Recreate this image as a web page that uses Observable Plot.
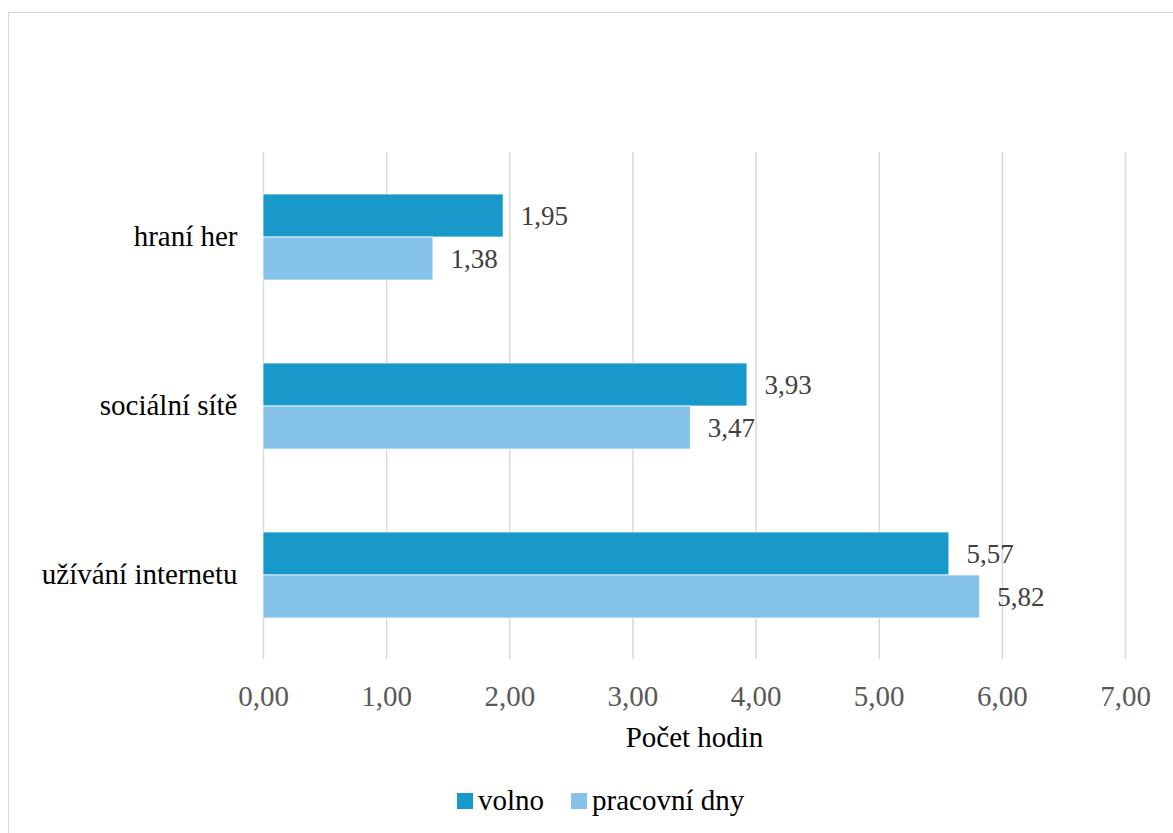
<!DOCTYPE html>
<html><head><meta charset="utf-8">
<script src="https://cdn.jsdelivr.net/npm/d3@7"></script>
<script src="https://cdn.jsdelivr.net/npm/@observablehq/plot@0.6"></script>
<style>
html,body{margin:0;padding:0;background:#fff;overflow:hidden;}
#wrap{position:relative;width:1173px;height:833px;overflow:hidden;background:#fff;}
#frame{position:absolute;left:8px;top:12px;width:1200px;height:900px;border:1.5px solid #d9d9d9;box-sizing:border-box;}
#chart{position:absolute;left:0;top:0;}
#legend{position:absolute;left:457px;top:786px;display:flex;align-items:center;font-family:"Liberation Serif","Times New Roman",serif;font-size:29px;line-height:1;color:#000;white-space:nowrap;}
#legend .sw{display:inline-block;width:16px;height:16px;margin-right:5px;}
#legend .item{display:flex;align-items:center;margin-right:27px;}
svg text{font-family:"Liberation Serif","Times New Roman",serif !important;}
g[aria-label="x-axis tick label"]{fill:#595959;}
</style>
</head><body>
<div id="wrap"><div id="frame"></div><div id="chart"></div><div id="legend"></div></div>
<script>
const categories = ["hraní her", "sociální sítě", "užívání internetu"];
const series = ["volno", "pracovní dny"];
const volno = [1.95, 3.93, 5.57];
const pracovniDny = [1.38, 3.47, 5.82];
const xTicks = [0, 1, 2, 3, 4, 5, 6, 7];
const colors = ["#1999ca", "#86c3ea"];
const axisTitle = "Počet hodin";

const fmt = d => d.toFixed(2).replace(".", ",");
const rows = [];
categories.forEach((c, i) => {
  rows.push({category: c, series: series[0], value: volno[i]});
  rows.push({category: c, series: series[1], value: pracovniDny[i]});
});

const chart = Plot.plot({
  width: 1173, height: 770,
  marginLeft: 263, marginRight: 48, marginTop: 151, marginBottom: 110,
  style: {fontFamily: "Liberation Serif, Times New Roman, serif", fontSize: "29px", color: "#000", background: "transparent"},
  x: {domain: [0, 7], ticks: xTicks, tickFormat: fmt, tickSize: 0, tickPadding: 26, label: axisTitle, labelAnchor: "center", labelOffset: 87, labelArrow: "none"},
  y: {domain: series, axis: null, paddingInner: 0, paddingOuter: 0.93},
  fy: {domain: categories, padding: 0, label: null, tickSize: 0, tickPadding: 26, axis: "left"},
  color: {domain: series, range: colors},
  marks: [
    Plot.ruleX(xTicks, {stroke: "#d9d9d9", strokeWidth: 1.5}),
    Plot.barX(rows, {x: "value", y: "series", fy: "category", fill: "series", stroke: "#fff", strokeWidth: 0.75}),
    Plot.text(rows, {x: "value", y: "series", fy: "category", text: d => fmt(d.value), textAnchor: "start", dx: 17, fontSize: 27, fill: "#404040"})
  ]
});
document.getElementById("chart").appendChild(chart);

const legend = document.getElementById("legend");
series.forEach((s, i) => {
  const item = document.createElement("span");
  item.className = "item";
  const sw = document.createElement("span");
  sw.className = "sw";
  sw.style.background = colors[i];
  item.appendChild(sw);
  item.appendChild(document.createTextNode(s));
  legend.appendChild(item);
});
</script>
</body></html>
